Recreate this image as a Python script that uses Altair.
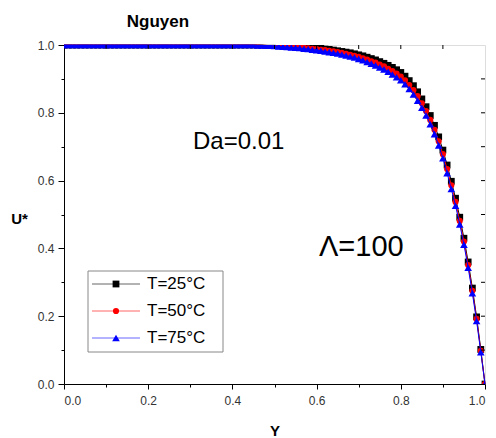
import altair as alt
import pandas as pd

# ---- data ----
Y_GRID = [round(i * 0.01, 2) for i in range(101)]

U_25 = [1.0] * 46 + [
    1.0, 1.0, 0.999, 0.999, 0.999, 0.998, 0.998, 0.997, 0.997, 0.996,
    0.995, 0.994, 0.993, 0.992, 0.991, 0.990, 0.988, 0.987, 0.985, 0.983,
    0.981, 0.979, 0.977, 0.974, 0.971, 0.968, 0.964, 0.960, 0.956, 0.951,
    0.946, 0.940, 0.934, 0.927, 0.919, 0.908, 0.895, 0.880, 0.862, 0.841,
    0.818, 0.792, 0.763, 0.729, 0.690, 0.646, 0.598, 0.548, 0.492, 0.430,
    0.360, 0.283, 0.198, 0.102, 0.0]

U_50 = [1.0] * 46 + [
    1.0, 0.999, 0.999, 0.998, 0.998, 0.997, 0.996, 0.996, 0.995, 0.994,
    0.993, 0.992, 0.990, 0.989, 0.988, 0.986, 0.985, 0.983, 0.981, 0.979,
    0.977, 0.974, 0.971, 0.968, 0.965, 0.961, 0.957, 0.952, 0.948, 0.942,
    0.937, 0.930, 0.923, 0.916, 0.907, 0.896, 0.882, 0.867, 0.849, 0.828,
    0.805, 0.779, 0.750, 0.716, 0.678, 0.634, 0.586, 0.537, 0.481, 0.420,
    0.351, 0.275, 0.192, 0.098, 0.0]

U_75 = [1.0] * 46 + [
    0.999, 0.999, 0.998, 0.998, 0.997, 0.996, 0.995, 0.994, 0.993, 0.992,
    0.991, 0.989, 0.988, 0.986, 0.985, 0.983, 0.981, 0.979, 0.977, 0.975,
    0.972, 0.969, 0.966, 0.963, 0.959, 0.955, 0.950, 0.945, 0.940, 0.934,
    0.928, 0.921, 0.913, 0.905, 0.896, 0.884, 0.870, 0.854, 0.836, 0.815,
    0.792, 0.766, 0.737, 0.704, 0.666, 0.622, 0.575, 0.526, 0.471, 0.411,
    0.343, 0.268, 0.186, 0.094, 0.0]

SERIES = ["T=25°C", "T=50°C", "T=75°C"]
COLORS = ["#000000", "#ff0000", "#0000ff"]
SHAPES = ["square", "circle", "triangle-up"]
SIZES = [46, 38, 58]
TICKS = [0.0, 0.1, 0.2, 0.3, 0.4, 0.5, 0.6, 0.7, 0.8, 0.9, 1.0]
FRAME_TICKS = [0.1, 0.2, 0.3, 0.4, 0.5, 0.6, 0.7, 0.8, 0.9]

FONT = "Liberation Sans"
W, H = 421, 339

xscale = alt.Scale(domain=[0, 1], nice=False, zero=False)
yscale = alt.Scale(domain=[0, 1], nice=False, zero=False)

minor_test = "round(datum.value*10) % 2 == 1"
label_expr = "round(datum.value*10) % 2 == 0 ? format(datum.value, '.1f') : ''"

x_axis = alt.Axis(
    values=TICKS, labelExpr=label_expr, grid=False,
    tickSize={"condition": {"test": minor_test, "value": 3}, "value": 5},
    labelPadding=6, labelFontSize=12, labelFont=FONT, labelColor="#333333",
    title="Y", titleFont=FONT, titleFontSize=15, titleFontWeight="bold",
    titleColor="black", titleY=46, titleBaseline="middle",
    domainColor="black", tickColor="black",
)
y_axis = alt.Axis(
    values=TICKS, labelExpr=label_expr, grid=False,
    tickSize={"condition": {"test": minor_test, "value": 3}, "value": 6},
    labelPadding=4, labelFontSize=12, labelFont=FONT, labelColor="#333333",
    title="U*", titleFont=FONT, titleFontSize=15, titleFontWeight="bold",
    titleColor="black", titleAngle=0, titleX=-45, titleY=173,
    titleAlign="center", titleBaseline="middle",
    domainColor="black", tickColor="black",
)

layers = []
values = [U_25, U_50, U_75]
for i, name in enumerate(SERIES):
    df = pd.DataFrame({"Y": Y_GRID, "U": values[i], "series": name})
    base = alt.Chart(df).encode(
        x=alt.X("Y:Q", scale=xscale, axis=x_axis),
        y=alt.Y("U:Q", scale=yscale, axis=y_axis),
    )
    layers.append(base.mark_line(color=COLORS[i], strokeWidth=1))
    layers.append(base.mark_point(shape=SHAPES[i], filled=True, color=COLORS[i],
                                  size=SIZES[i], opacity=1, clip=True))

# inward ticks on the top and right frame
ft = pd.DataFrame({"v": FRAME_TICKS})
layers.append(alt.Chart(ft).mark_rule(color="black", strokeWidth=1).encode(
    x=alt.X("v:Q", scale=xscale, axis=x_axis), y=alt.value(0), y2=alt.value(4)))
layers.append(alt.Chart(ft).mark_rule(color="black", strokeWidth=1).encode(
    y=alt.Y("v:Q", scale=yscale, axis=y_axis), x=alt.value(W), x2=alt.value(W - 4)))

# title and annotations
layers.append(alt.Chart(pd.DataFrame({"t": ["Nguyen"]})).mark_text(
    align="center", baseline="alphabetic", font=FONT, fontSize=17,
    fontWeight="bold", color="black").encode(
    text="t:N", x=alt.value(94), y=alt.value(-18)))
layers.append(alt.Chart(pd.DataFrame({"t": ["Da=0.01"]})).mark_text(
    align="left", baseline="middle", font=FONT, fontSize=24, color="black").encode(
    text="t:N", x=alt.value(129), y=alt.value(97)))
layers.append(alt.Chart(pd.DataFrame({"t": ["Λ=100"]})).mark_text(
    align="left", baseline="middle", font=FONT, fontSize=29, color="black").encode(
    text="t:N", x=alt.value(255), y=alt.value(202)))

# legend box
layers.append(alt.Chart(pd.DataFrame({"a": [0]})).mark_rect(
    fill="white", stroke="#888888", strokeWidth=1).encode(
    x=alt.value(24), x2=alt.value(159), y=alt.value(226), y2=alt.value(307)))
ROWS = [239, 266, 293]
for i, name in enumerate(SERIES):
    d = pd.DataFrame({"t": [name]})
    layers.append(alt.Chart(d).mark_rule(color=COLORS[i], strokeWidth=1, opacity=0.6).encode(
        x=alt.value(28), x2=alt.value(76), y=alt.value(ROWS[i])))
    layers.append(alt.Chart(d).mark_point(shape=SHAPES[i], filled=True, color=COLORS[i],
                                          size=SIZES[i], opacity=1).encode(
        x=alt.value(52), y=alt.value(ROWS[i])))
    layers.append(alt.Chart(d).mark_text(align="left", baseline="middle", font=FONT,
                                         fontSize=17, color="black").encode(
        text="t:N", x=alt.value(83), y=alt.value(ROWS[i])))

chart = alt.layer(*layers).properties(
    width=W, height=H,
    autosize=alt.AutoSizeParams(type="none"),
    padding={"left": 64, "top": 45, "right": 11, "bottom": 54},
).configure_view(stroke="black", strokeWidth=1).configure(background="white")

chart.save("out.html", embed_options={"renderer": "svg", "actions": False})
